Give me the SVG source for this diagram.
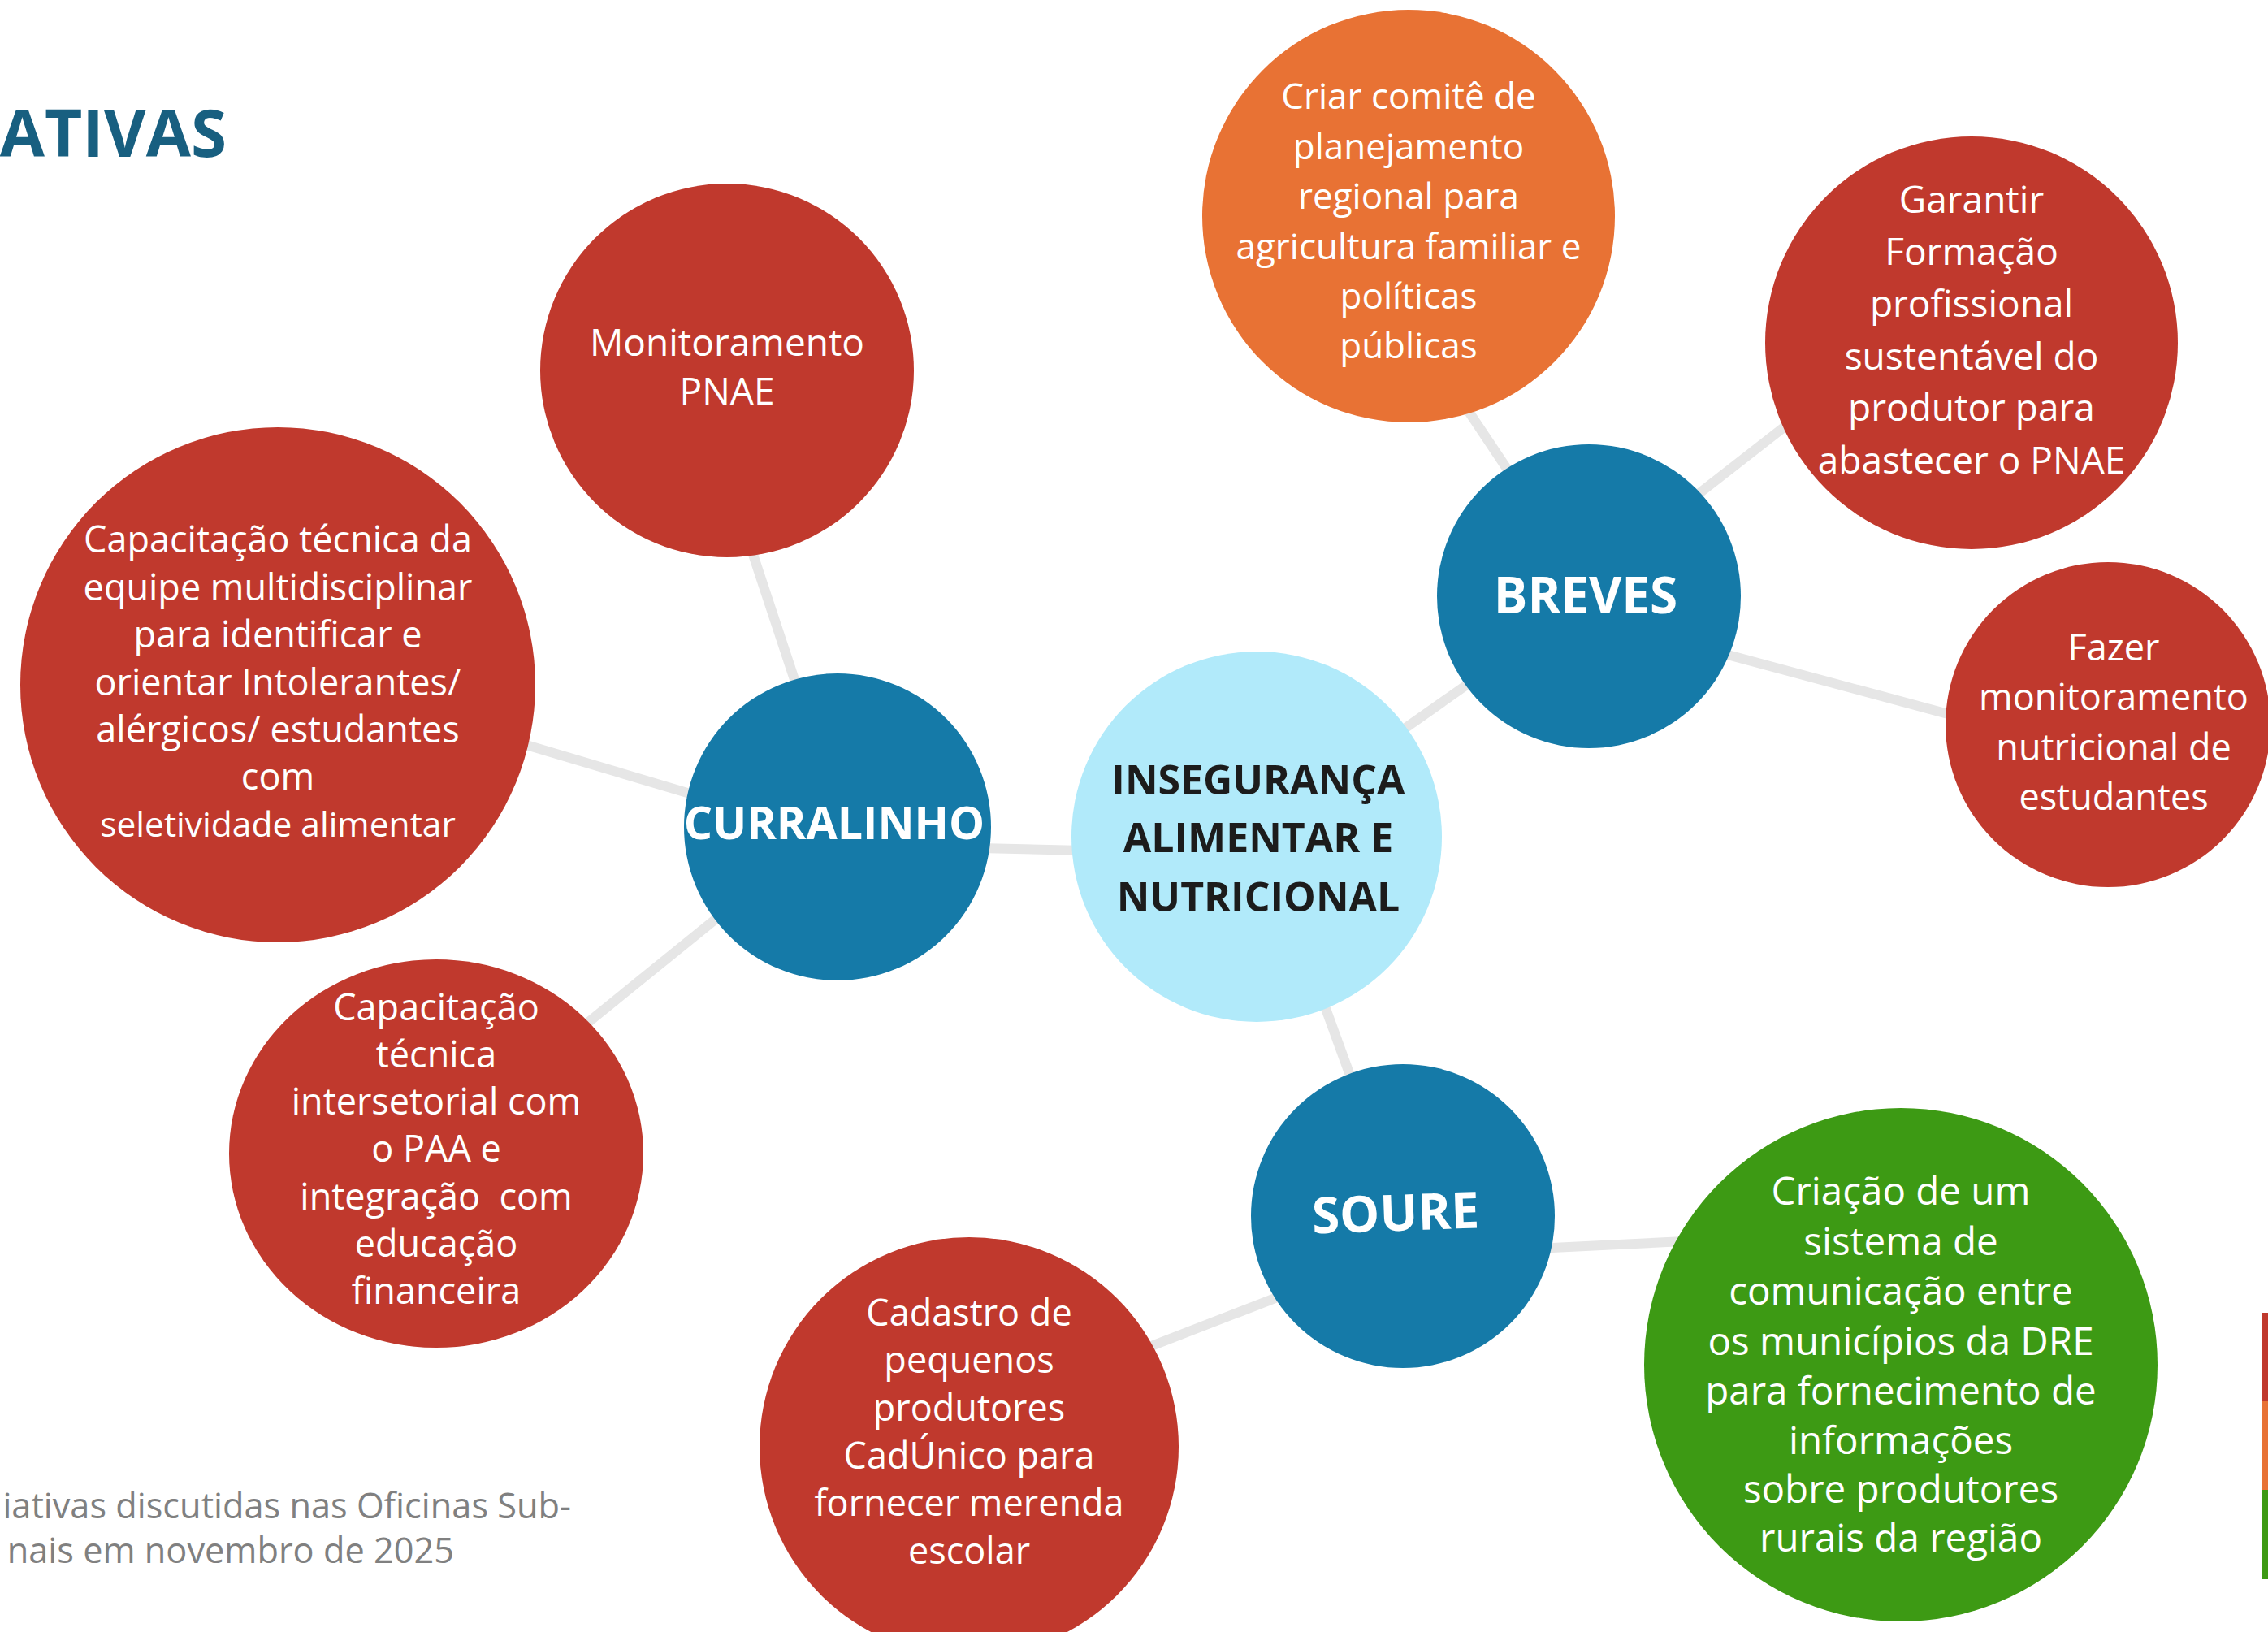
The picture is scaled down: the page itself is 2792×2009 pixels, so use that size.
<svg xmlns="http://www.w3.org/2000/svg" width="2792" height="2009" viewBox="0 0 2792 2009">
<style>
.red{fill:#c0392d}
.orange{fill:#e87234}
.green{fill:#3d9a14}
.blue{fill:#157aa8}
.center{fill:#b1eafa}
.t{font-family:"Open Sans","Noto Sans","Liberation Sans",sans-serif;fill:#ffffff;text-anchor:middle;font-size:45px}
.b{font-weight:700}
.dark{fill:#1c1c1c}
.conn line{stroke:#e6e6e6;stroke-width:12;fill:none}
</style>
<rect x="0" y="0" width="2792" height="2009" fill="#ffffff"/>
<text x="279" y="193" style="font-family:'Open Sans','Liberation Sans',sans-serif;font-weight:700;font-size:80px;fill:#185f80;text-anchor:end">ATIVAS</text>
<g id="footnote" style="font-family:'Open Sans','Liberation Sans',sans-serif;font-size:43.3px;fill:#808080;text-anchor:end">
<text x="703" y="1869">iativas discutidas nas Oficinas Sub-</text>
<text x="559" y="1924">nais em novembro de 2025</text>
</g>
<g id="legend-bar">
<rect x="2784" y="1616" width="8" height="109" fill="#c0392d"/>
<rect x="2784" y="1725" width="8" height="109" fill="#e87234"/>
<rect x="2784" y="1834" width="8" height="110" fill="#3d9a14"/>
</g>
<g id="connectors" class="conn">
<line x1="1031" y1="1040" x2="1547" y2="1052"/>
<line x1="860" y1="480" x2="1038" y2="1018"/>
<line x1="342" y1="826" x2="1031" y2="1031"/>
<line x1="537" y1="1410" x2="1031" y2="1010"/>
<line x1="1547" y1="1025" x2="1955" y2="738"/>
<line x1="1690" y1="330" x2="1960" y2="734"/>
<line x1="1956" y1="713" x2="2300" y2="445"/>
<line x1="1956" y1="760" x2="2595" y2="932"/>
<line x1="1555" y1="1030" x2="1725" y2="1497"/>
<line x1="1193" y1="1744" x2="1727" y2="1537"/>
<line x1="1727" y1="1545" x2="2340" y2="1515"/>
</g>
<g id="n-central">
<circle class="center" cx="1547" cy="1030" r="228"/>
<text class="t b dark" style="font-size:50px"><tspan x="1549" y="978">INSEGURANÇA</tspan><tspan x="1549" y="1049">ALIMENTAR E</tspan><tspan x="1549" y="1122">NUTRICIONAL</tspan></text>
</g>
<g id="n-curralinho">
<circle class="blue" cx="1031" cy="1018" r="189"/>
<text class="t b" x="1027" y="1033" style="font-size:55.5px">CURRALINHO</text>
</g>
<g id="n-breves">
<circle class="blue" cx="1956" cy="734" r="187"/>
<text class="t b" x="1952" y="755" style="font-size:62px">BREVES</text>
</g>
<g id="n-soure">
<circle class="blue" cx="1727" cy="1497" r="187"/>
<text class="t b" x="1718" y="1515" style="font-size:62px" transform="rotate(-2 1718 1495)">SOURE</text>
</g>
<g id="n-monitoramento">
<circle class="red" cx="895" cy="456" r="230"/>
<text class="t" style="font-size:46px"><tspan x="895" y="438">Monitoramento</tspan><tspan x="895" y="498">PNAE</tspan></text>
</g>
<g id="n-capacitacao-equipe">
<circle class="red" cx="342" cy="843" r="317"/>
<text class="t"><tspan x="342" y="680">Capacitação técnica da</tspan><tspan x="342" y="739">equipe multidisciplinar</tspan><tspan x="342" y="797">para identificar e</tspan><tspan x="342" y="856">orientar Intolerantes/</tspan><tspan x="342" y="914">alérgicos/ estudantes</tspan><tspan x="342" y="972">com</tspan><tspan x="342" y="1030" style="font-size:42.5px">seletividade alimentar</tspan></text>
</g>
<g id="n-capacitacao-intersetorial">
<ellipse class="red" cx="537" cy="1420" rx="255" ry="239"/>
<text class="t" xml:space="preserve"><tspan x="537" y="1256">Capacitação</tspan><tspan x="537" y="1314">técnica</tspan><tspan x="537" y="1372">intersetorial com</tspan><tspan x="537" y="1430">o PAA e</tspan><tspan x="537" y="1489">integração  com</tspan><tspan x="537" y="1547">educação</tspan><tspan x="537" y="1605">financeira</tspan></text>
</g>
<g id="n-criar-comite">
<circle class="orange" cx="1734" cy="266" r="254"/>
<text class="t" style="font-size:44px"><tspan x="1734" y="134">Criar comitê de</tspan><tspan x="1734" y="196">planejamento</tspan><tspan x="1734" y="257">regional para</tspan><tspan x="1734" y="319">agricultura familiar e</tspan><tspan x="1734" y="380">políticas</tspan><tspan x="1734" y="441">públicas</tspan></text>
</g>
<g id="n-garantir">
<circle class="red" cx="2427" cy="422" r="254"/>
<text class="t" style="font-size:46px"><tspan x="2427" y="262">Garantir</tspan><tspan x="2427" y="326">Formação</tspan><tspan x="2427" y="390">profissional</tspan><tspan x="2427" y="455">sustentável do</tspan><tspan x="2427" y="518">produtor para</tspan><tspan x="2427" y="583">abastecer o PNAE</tspan></text>
</g>
<g id="n-fazer">
<circle class="red" cx="2595" cy="892" r="200"/>
<text class="t"><tspan x="2602" y="813">Fazer</tspan><tspan x="2602" y="874">monitoramento</tspan><tspan x="2602" y="936">nutricional de</tspan><tspan x="2602" y="997">estudantes</tspan></text>
</g>
<g id="n-cadastro">
<circle class="red" cx="1193" cy="1781" r="258"/>
<text class="t"><tspan x="1193" y="1632">Cadastro de</tspan><tspan x="1193" y="1690">pequenos</tspan><tspan x="1193" y="1749">produtores</tspan><tspan x="1193" y="1808">CadÚnico para</tspan><tspan x="1193" y="1866">fornecer merenda</tspan><tspan x="1193" y="1925">escolar</tspan></text>
</g>
<g id="n-criacao">
<circle class="green" cx="2340" cy="1680" r="316"/>
<text class="t" style="font-size:47.5px"><tspan x="2340" y="1483">Criação de um</tspan><tspan x="2340" y="1545">sistema de</tspan><tspan x="2340" y="1606">comunicação entre</tspan><tspan x="2340" y="1668">os municípios da DRE</tspan><tspan x="2340" y="1729">para fornecimento de</tspan><tspan x="2340" y="1790">informações</tspan><tspan x="2340" y="1850">sobre produtores</tspan><tspan x="2340" y="1910">rurais da região</tspan></text>
</g>
</svg>
